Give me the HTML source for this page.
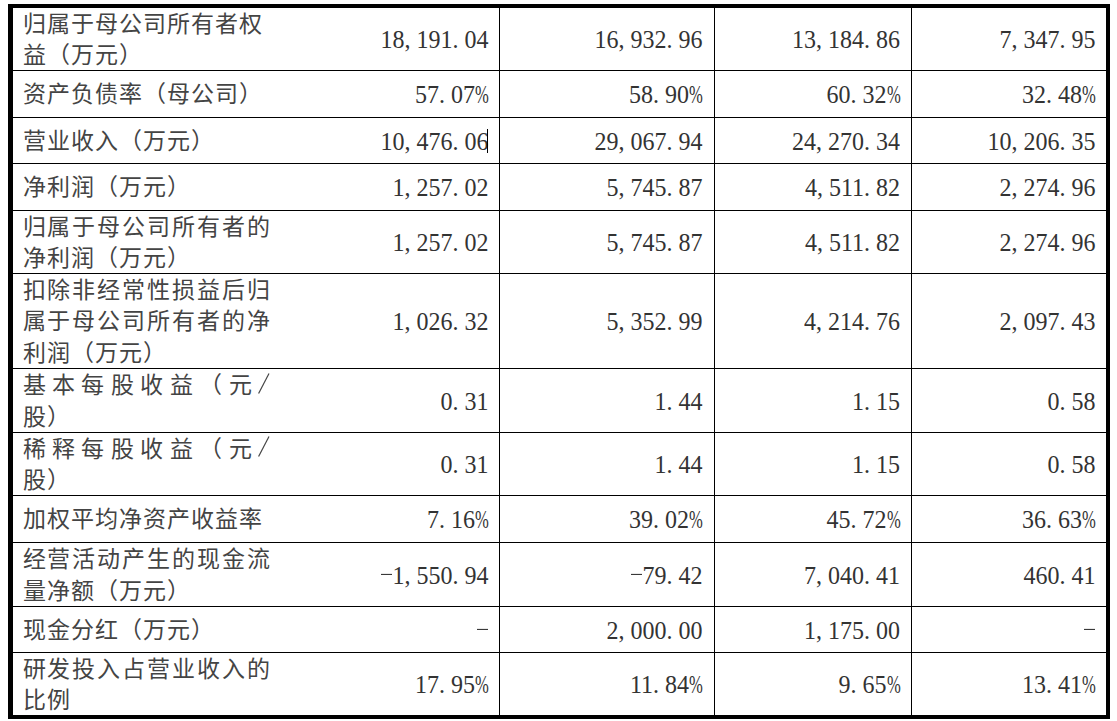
<!DOCTYPE html>
<html lang="zh-CN"><head><meta charset="utf-8"><title>table</title>
<style>
html,body{margin:0;padding:0;background:#fff;}
body{width:1117px;height:721px;position:relative;overflow:hidden;font-family:"Liberation Serif",serif;color:#000;}
.k{position:absolute;background:#000;}
.lab{position:absolute;left:22.5px;color:#444;width:247px;display:flex;align-items:center;font-size:23px;line-height:31.2px;}
.lab>div{width:247px;position:relative;top:1px;}
.ln{white-space:nowrap;letter-spacing:1px;}
.ln.j{letter-spacing:6.46px;}
.ln.j2{letter-spacing:1.9px;}
.sl{display:inline-block;vertical-align:-0.5px;}
.num{position:absolute;color:#333;display:flex;align-items:center;justify-content:flex-end;font-size:24px;white-space:nowrap;padding-top:1px;box-sizing:border-box;}
.num>span{display:inline-block;transform:scaleY(1.07);}
.num i{font-style:normal;letter-spacing:6px;}
.num b{font-weight:normal;display:inline-block;width:13.5px;letter-spacing:0;}
.num b span{display:inline-block;transform:scaleX(0.69);transform-origin:0 0;}
.num u{text-decoration:none;display:inline-block;width:12px;height:0;position:relative;}
.num u::before{content:"";position:absolute;left:0;width:11px;height:1.3px;top:-9.5px;background:#333;}
</style></head><body>
<div class="k" style="left:8px;top:4px;width:1102px;height:4px"></div>
<div class="k" style="left:8px;top:715px;width:1102px;height:4px"></div>
<div class="k" style="left:8px;top:4px;width:5px;height:715px"></div>
<div class="k" style="left:1106px;top:4px;width:4px;height:715px"></div>
<div class="k" style="left:13px;top:70px;width:1093px;height:1px"></div>
<div class="k" style="left:13px;top:117px;width:1093px;height:1px"></div>
<div class="k" style="left:13px;top:163px;width:1093px;height:1px"></div>
<div class="k" style="left:13px;top:210px;width:1093px;height:1px"></div>
<div class="k" style="left:13px;top:273px;width:1093px;height:1px"></div>
<div class="k" style="left:13px;top:368px;width:1093px;height:1px"></div>
<div class="k" style="left:13px;top:432px;width:1093px;height:1px"></div>
<div class="k" style="left:13px;top:495px;width:1093px;height:1px"></div>
<div class="k" style="left:13px;top:542px;width:1093px;height:1px"></div>
<div class="k" style="left:13px;top:606px;width:1093px;height:1px"></div>
<div class="k" style="left:13px;top:652px;width:1093px;height:1px"></div>
<div class="k" style="left:499px;top:8px;width:1px;height:707px"></div>
<div class="k" style="left:714px;top:8px;width:1px;height:707px"></div>
<div class="k" style="left:911px;top:8px;width:1px;height:707px"></div>
<div class="lab" style="top:8px;height:62px"><div><div class="ln">归属于母公司所有者权</div><div class="ln">益（万元）</div></div></div>
<div class="num" style="top:8px;height:62px;right:628.5px"><span>18<i>,</i>191<i>.</i>04</span></div>
<div class="num" style="top:8px;height:62px;right:414.5px"><span>16<i>,</i>932<i>.</i>96</span></div>
<div class="num" style="top:8px;height:62px;right:217.0px"><span>13<i>,</i>184<i>.</i>86</span></div>
<div class="num" style="top:8px;height:62px;right:21.5px"><span>7<i>,</i>347<i>.</i>95</span></div>
<div class="lab" style="top:71px;height:46px"><div><div class="ln">资产负债率（母公司）</div></div></div>
<div class="num" style="top:71px;height:46px;right:628.5px"><span>57<i>.</i>07<b><span>%</span></b></span></div>
<div class="num" style="top:71px;height:46px;right:414.5px"><span>58<i>.</i>90<b><span>%</span></b></span></div>
<div class="num" style="top:71px;height:46px;right:217.0px"><span>60<i>.</i>32<b><span>%</span></b></span></div>
<div class="num" style="top:71px;height:46px;right:21.5px"><span>32<i>.</i>48<b><span>%</span></b></span></div>
<div class="lab" style="top:118px;height:45px"><div><div class="ln">营业收入（万元）</div></div></div>
<div class="num" style="top:118px;height:45px;right:628.5px"><span>10<i>,</i>476<i>.</i>06</span></div>
<div class="num" style="top:118px;height:45px;right:414.5px"><span>29<i>,</i>067<i>.</i>94</span></div>
<div class="num" style="top:118px;height:45px;right:217.0px"><span>24<i>,</i>270<i>.</i>34</span></div>
<div class="num" style="top:118px;height:45px;right:21.5px"><span>10<i>,</i>206<i>.</i>35</span></div>
<div class="lab" style="top:164px;height:46px"><div><div class="ln">净利润（万元）</div></div></div>
<div class="num" style="top:164px;height:46px;right:628.5px"><span>1<i>,</i>257<i>.</i>02</span></div>
<div class="num" style="top:164px;height:46px;right:414.5px"><span>5<i>,</i>745<i>.</i>87</span></div>
<div class="num" style="top:164px;height:46px;right:217.0px"><span>4<i>,</i>511<i>.</i>82</span></div>
<div class="num" style="top:164px;height:46px;right:21.5px"><span>2<i>,</i>274<i>.</i>96</span></div>
<div class="lab" style="top:211px;height:62px"><div><div class="ln j2">归属于母公司所有者的</div><div class="ln">净利润（万元）</div></div></div>
<div class="num" style="top:211px;height:62px;right:628.5px"><span>1<i>,</i>257<i>.</i>02</span></div>
<div class="num" style="top:211px;height:62px;right:414.5px"><span>5<i>,</i>745<i>.</i>87</span></div>
<div class="num" style="top:211px;height:62px;right:217.0px"><span>4<i>,</i>511<i>.</i>82</span></div>
<div class="num" style="top:211px;height:62px;right:21.5px"><span>2<i>,</i>274<i>.</i>96</span></div>
<div class="lab" style="top:274px;height:94px"><div><div class="ln j2">扣除非经常性损益后归</div><div class="ln j2">属于母公司所有者的净</div><div class="ln">利润（万元）</div></div></div>
<div class="num" style="top:274px;height:94px;right:628.5px"><span>1<i>,</i>026<i>.</i>32</span></div>
<div class="num" style="top:274px;height:94px;right:414.5px"><span>5<i>,</i>352<i>.</i>99</span></div>
<div class="num" style="top:274px;height:94px;right:217.0px"><span>4<i>,</i>214<i>.</i>76</span></div>
<div class="num" style="top:274px;height:94px;right:21.5px"><span>2<i>,</i>097<i>.</i>43</span></div>
<div class="lab" style="top:369px;height:63px"><div><div class="ln j">基本每股收益（元<svg class="sl" width="12" height="21" viewBox="0 0 12 21"><line x1="0.6" y1="20.6" x2="11" y2="0.4" stroke="#444" stroke-width="1.2"/></svg></div><div class="ln">股）</div></div></div>
<div class="num" style="top:369px;height:63px;right:628.5px"><span>0<i>.</i>31</span></div>
<div class="num" style="top:369px;height:63px;right:414.5px"><span>1<i>.</i>44</span></div>
<div class="num" style="top:369px;height:63px;right:217.0px"><span>1<i>.</i>15</span></div>
<div class="num" style="top:369px;height:63px;right:21.5px"><span>0<i>.</i>58</span></div>
<div class="lab" style="top:433px;height:62px"><div><div class="ln j">稀释每股收益（元<svg class="sl" width="12" height="21" viewBox="0 0 12 21"><line x1="0.6" y1="20.6" x2="11" y2="0.4" stroke="#444" stroke-width="1.2"/></svg></div><div class="ln">股）</div></div></div>
<div class="num" style="top:433px;height:62px;right:628.5px"><span>0<i>.</i>31</span></div>
<div class="num" style="top:433px;height:62px;right:414.5px"><span>1<i>.</i>44</span></div>
<div class="num" style="top:433px;height:62px;right:217.0px"><span>1<i>.</i>15</span></div>
<div class="num" style="top:433px;height:62px;right:21.5px"><span>0<i>.</i>58</span></div>
<div class="lab" style="top:496px;height:46px"><div><div class="ln">加权平均净资产收益率</div></div></div>
<div class="num" style="top:496px;height:46px;right:628.5px"><span>7<i>.</i>16<b><span>%</span></b></span></div>
<div class="num" style="top:496px;height:46px;right:414.5px"><span>39<i>.</i>02<b><span>%</span></b></span></div>
<div class="num" style="top:496px;height:46px;right:217.0px"><span>45<i>.</i>72<b><span>%</span></b></span></div>
<div class="num" style="top:496px;height:46px;right:21.5px"><span>36<i>.</i>63<b><span>%</span></b></span></div>
<div class="lab" style="top:543px;height:63px"><div><div class="ln j2">经营活动产生的现金流</div><div class="ln">量净额（万元）</div></div></div>
<div class="num" style="top:543px;height:63px;right:628.5px"><span><u></u>1<i>,</i>550<i>.</i>94</span></div>
<div class="num" style="top:543px;height:63px;right:414.5px"><span><u></u>79<i>.</i>42</span></div>
<div class="num" style="top:543px;height:63px;right:217.0px"><span>7<i>,</i>040<i>.</i>41</span></div>
<div class="num" style="top:543px;height:63px;right:21.5px"><span>460<i>.</i>41</span></div>
<div class="lab" style="top:607px;height:45px"><div><div class="ln">现金分红（万元）</div></div></div>
<div class="num" style="top:607px;height:45px;right:628.5px"><span><u></u></span></div>
<div class="num" style="top:607px;height:45px;right:414.5px"><span>2<i>,</i>000<i>.</i>00</span></div>
<div class="num" style="top:607px;height:45px;right:217.0px"><span>1<i>,</i>175<i>.</i>00</span></div>
<div class="num" style="top:607px;height:45px;right:21.5px"><span><u></u></span></div>
<div class="lab" style="top:653px;height:62px"><div><div class="ln j2">研发投入占营业收入的</div><div class="ln">比例</div></div></div>
<div class="num" style="top:653px;height:62px;right:628.5px"><span>17<i>.</i>95<b><span>%</span></b></span></div>
<div class="num" style="top:653px;height:62px;right:414.5px"><span>11<i>.</i>84<b><span>%</span></b></span></div>
<div class="num" style="top:653px;height:62px;right:217.0px"><span>9<i>.</i>65<b><span>%</span></b></span></div>
<div class="num" style="top:653px;height:62px;right:21.5px"><span>13<i>.</i>41<b><span>%</span></b></span></div>
<div class="k" style="left:487px;top:129px;width:1px;height:24px"></div>
</body></html>
